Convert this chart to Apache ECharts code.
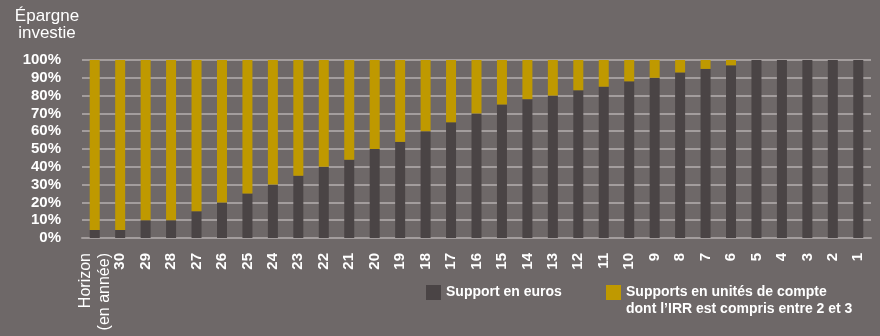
<!DOCTYPE html>
<html>
<head>
<meta charset="utf-8">
<script src="https://cdn.jsdelivr.net/npm/echarts@6/dist/echarts.min.js"></script>
<style>
  html, body { margin: 0; padding: 0; background: #6e6868; }
  #chart { width: 880px; height: 336px; }
</style>
</head>
<body>
<div id="chart"></div>
<script>
'use strict';

// horizon en années (premier libellé = titre de l'axe)
const categories = ['Horizon\n(en année)', '30', '29', '28', '27', '26', '25', '24', '23', '22', '21',
  '20', '19', '18', '17', '16', '15', '14', '13', '12', '11',
  '10', '9', '8', '7', '6', '5', '4', '3', '2', '1'];

// part en support euros (%)
const euros = [4.5, 4.5, 10, 10, 15, 20, 25, 30, 35, 40, 44,
  50, 54, 60, 65, 70, 75, 78, 80, 83, 85,
  88, 90, 93, 95, 97, 100, 100, 100, 100, 100];

// part en unités de compte (%)
const uc = [95.5, 95.5, 90, 90, 85, 80, 75, 70, 65, 60, 56,
  50, 46, 40, 35, 30, 25, 22, 20, 17, 15,
  12, 10, 7, 5, 3, 0, 0, 0, 0, 0];

const yTicks = [0, 10, 20, 30, 40, 50, 60, 70, 80, 90, 100];

const FONT = '"Liberation Sans", Arial, sans-serif';
const EURO_COLOR = '#4a4445';
const UC_COLOR = '#bf9900';
const GRID_COLOR = '#a39d9d';

const LEG_EURO = 'Support en euros';
const LEG_UC = 'Supports en unités de compte\ndont l\u2019IRR est compris entre 2 et 3';

const chart = echarts.init(document.getElementById('chart'));

chart.setOption({
  backgroundColor: '#6e6868',
  animation: false,
  title: {
    text: 'Épargne\ninvestie',
    left: 42,
    top: 3,
    textAlign: 'center',
    textStyle: {
      color: '#ffffff',
      fontFamily: FONT,
      fontWeight: 'normal',
      fontSize: 17,
      lineHeight: 17
    }
  },
  legend: [{
    data: [LEG_EURO],
    left: 426,
    top: 285,
    padding: 0,
    icon: 'rect',
    itemWidth: 15,
    itemHeight: 15,
    textStyle: { color: '#ffffff', fontFamily: FONT, fontWeight: 'bold', fontSize: 14 }
  }, {
    data: [LEG_UC],
    left: 606,
    top: 267,
    padding: 0,
    icon: 'rect',
    itemWidth: 15,
    itemHeight: 15,
    // ligne vide en tête : la 1re ligne du texte se cale sur le carré
    formatter: (name) => '\n' + name,
    textStyle: {
      color: '#ffffff', fontFamily: FONT, fontWeight: 'bold', fontSize: 14,
      lineHeight: 17
    }
  }],
  grid: { left: 82, right: 9, top: 60, bottom: 98 },
  xAxis: {
    type: 'category',
    data: categories.map((c, i) => i === 0
      ? { value: c, textStyle: { fontWeight: 'normal', fontSize: 16, lineHeight: 19, padding: [0, 0, 8, 0] } }
      : c),
    axisTick: { show: false },
    axisLine: { lineStyle: { color: GRID_COLOR, width: 2 } },
    axisLabel: {
      interval: 0,
      rotate: 90,
      margin: 15,
      color: '#ffffff',
      fontFamily: FONT,
      fontWeight: 'bold',
      fontSize: 15
    }
  },
  yAxis: {
    type: 'value',
    min: yTicks[0],
    max: yTicks[yTicks.length - 1],
    interval: 10,
    axisLine: { show: false },
    axisTick: { show: false },
    splitLine: { lineStyle: { color: GRID_COLOR, width: 2 } },
    axisLabel: {
      margin: 21,
      color: '#ffffff',
      fontFamily: FONT,
      fontWeight: 'bold',
      fontSize: 15,
      formatter: '{value}%'
    }
  },
  series: [{
    name: LEG_EURO,
    type: 'bar',
    stack: 'total',
    barWidth: 10,
    itemStyle: { color: EURO_COLOR },
    data: euros
  }, {
    name: LEG_UC,
    type: 'bar',
    stack: 'total',
    barWidth: 10,
    itemStyle: { color: UC_COLOR },
    data: uc
  }]
});
</script>
</body>
</html>
